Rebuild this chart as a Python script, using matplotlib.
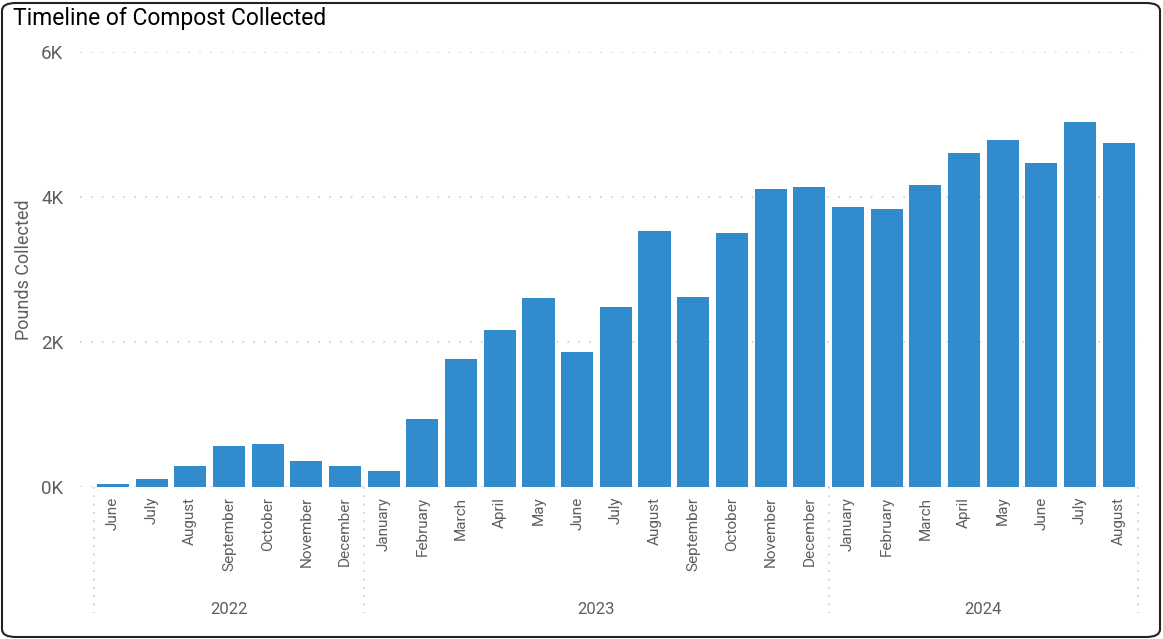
import matplotlib
matplotlib.use("Agg")
import matplotlib.pyplot as plt
from matplotlib.patches import FancyBboxPatch

# donnees
mois = ["June", "July", "August", "September", "October", "November", "December",
        "January", "February", "March", "April", "May", "June", "July", "August",
        "September", "October", "November", "December",
        "January", "February", "March", "April", "May", "June", "July", "August"]
annees = ["2022", "2023", "2024"]
nb_mois_annee = [7, 12, 8]
livres = [40, 110, 290, 560, 590, 360, 290,
          220, 940, 1770, 2170, 2610, 1860, 2480, 3530, 2620, 3500, 4110, 4140,
          3860, 3830, 4170, 4610, 4790, 4470, 5040, 4740]

plt.rcParams['font.family'] = ['Roboto', 'DejaVu Sans']
gris = '#605E5C'

fig = plt.figure(figsize=(11.63, 6.39), dpi=100)
ax = fig.add_axes([80/1163, 1-487/639, (1142-80)/1163, (487-52)/639])

x = list(range(len(livres)))
ax.bar(x, livres, width=0.83, color='#318BCC', zorder=3)

ax.set_ylim(0, 6000)
ax.set_xlim(-0.85, 26.6)
ax.set_yticks([0, 2000, 4000, 6000])
ax.set_yticklabels(["0K", "2K", "4K", "6K"], fontsize=13.5, color=gris)
ax.set_xticks(x)
ax.set_xticklabels(mois, rotation=90, fontsize=11, color=gris, va='top')
ax.tick_params(axis='both', length=0)
ax.tick_params(axis='y', pad=12)
ax.tick_params(axis='x', pad=7)
ax.set_ylabel("Pounds Collected", fontsize=13, color=gris, labelpad=6)

for s in ax.spines.values():
    s.set_visible(False)
ax.grid(axis='y', color='#CCCCCC', linestyle=(0, (1, 5.5)), linewidth=1.2, zorder=0)

# separateurs d'annees + labels
debut = -0.5
for an, n in zip(annees, nb_mois_annee):
    ax.plot([debut, debut], [0, -0.29], transform=ax.get_xaxis_transform(), clip_on=False,
            color='#CCCCCC', linestyle=(0, (1, 4)), linewidth=1.2)
    ax.text(debut + n / 2, -0.281, an, transform=ax.get_xaxis_transform(),
            ha='center', va='center', fontsize=12, color=gris)
    debut = debut + n
ax.plot([debut, debut], [0, -0.29], transform=ax.get_xaxis_transform(), clip_on=False,
        color='#CCCCCC', linestyle=(0, (1, 4)), linewidth=1.2)

fig.text(13/1163, 1-19/639, "Timeline of Compost Collected", fontsize=16.5, fontweight='normal',
         color='black', ha='left', va='center')

cadre = FancyBboxPatch((2/1163, 2/639), 1158/1163, 634/639, boxstyle="round,pad=0,rounding_size=0.012",
                       transform=fig.transFigure, fill=False, edgecolor='#222222', linewidth=1.5)
fig.patches.append(cadre)

fig.savefig("out.png", dpi=100)
